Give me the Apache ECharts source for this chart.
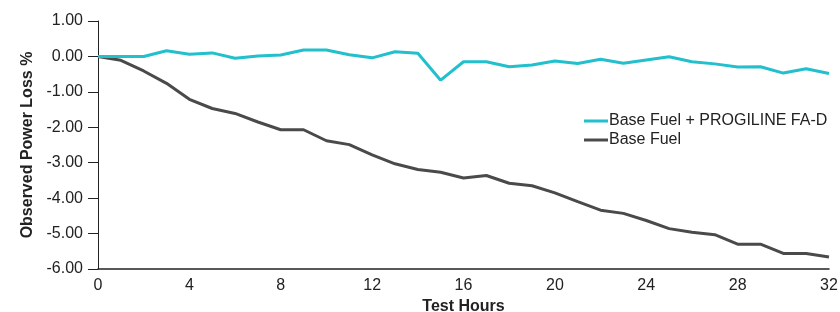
<!DOCTYPE html>
<html>
<head>
<meta charset="utf-8">
<script src="https://cdn.jsdelivr.net/npm/echarts@6/dist/echarts.min.js"></script>
<style>
    html, body { margin: 0; padding: 0; background: #fff; }
    #chart { width: 840px; height: 312px; }
</style>
</head>
<body>
<div id="chart"></div>
<script>
    // test hours 0..32
    var hours = [0, 1, 2, 3, 4, 5, 6, 7, 8, 9, 10, 11, 12, 13, 14, 15, 16,
                 17, 18, 19, 20, 21, 22, 23, 24, 25, 26, 27, 28, 29, 30, 31, 32];

    var progiline = [0, 0, 0, 0.16, 0.06, 0.10, -0.05, 0.01, 0.04, 0.18, 0.18, 0.05, -0.04, 0.13, 0.09, -0.67, -0.15,
                     -0.15, -0.29, -0.24, -0.13, -0.20, -0.08, -0.19, -0.10, -0.01, -0.15, -0.21, -0.30, -0.29, -0.47, -0.35, -0.48];

    var baseFuel = [0, -0.11, -0.41, -0.76, -1.21, -1.47, -1.61, -1.85, -2.07, -2.07, -2.38, -2.49, -2.78, -3.03, -3.19, -3.27, -3.43,
                    -3.36, -3.58, -3.65, -3.85, -4.10, -4.34, -4.43, -4.63, -4.86, -4.96, -5.03, -5.30, -5.30, -5.56, -5.56, -5.66];

    var seriesNames = ['Base Fuel + PROGILINE FA-D', 'Base Fuel'];

    function pairs(vals) {
      return hours.map(function (h, i) { return [h, vals[i]]; });
    }

    var myChart = echarts.init(document.getElementById('chart'));

    var fam = 'Liberation Sans, Arial, sans-serif';

    myChart.setOption({
      animation: false,
      textStyle: { fontFamily: fam, color: '#222' },
      grid: { left: 98, right: 11, top: 21, bottom: 43, outerBoundsMode: 'none' },
      legend: {
        orient: 'vertical',
        left: 579,
        top: 108,
        icon: 'rect',
        itemWidth: 24,
        itemHeight: 3,
        itemGap: 3,
        textStyle: { fontSize: 16, color: '#222', fontFamily: fam, padding: [0, 0, 0, -4] },
        data: seriesNames
      },
      xAxis: {
        type: 'value',
        min: 0,
        max: 32,
        interval: 4,
        name: 'Test Hours',
        nameLocation: 'middle',
        nameGap: 28,
        nameTextStyle: { fontWeight: 'bold', fontSize: 16, color: '#222' },
        axisLine: { onZero: false, lineStyle: { color: '#222', width: 1.5 } },
        axisTick: { show: false },
        axisLabel: { fontSize: 16, color: '#222', margin: 9 },
        splitLine: { show: false }
      },
      yAxis: {
        type: 'value',
        min: -6,
        max: 1,
        interval: 1,
        name: 'Observed Power Loss %',
        nameLocation: 'middle',
        nameGap: 60,
        nameTextStyle: { fontWeight: 'bold', fontSize: 16, color: '#222' },
        axisLine: { show: true, lineStyle: { color: '#222', width: 1 } },
        axisTick: { show: true, length: 10, lineStyle: { color: '#222' } },
        axisLabel: {
          fontSize: 16, color: '#222', margin: 15,
          formatter: function (v) { return v.toFixed(2); }
        },
        splitLine: { show: false }
      },
      series: [
        {
          name: seriesNames[0],
          type: 'line',
          showSymbol: false,
          symbol: 'none',
          z: 3,
          color: '#22bfcc',
          lineStyle: { width: 3, color: '#22bfcc' },
          data: pairs(progiline)
        },
        {
          name: seriesNames[1],
          type: 'line',
          showSymbol: false,
          symbol: 'none',
          z: 2,
          color: '#4a4a4a',
          lineStyle: { width: 3, color: '#4a4a4a' },
          data: pairs(baseFuel)
        }
      ]
    });
</script>
</body>
</html>
